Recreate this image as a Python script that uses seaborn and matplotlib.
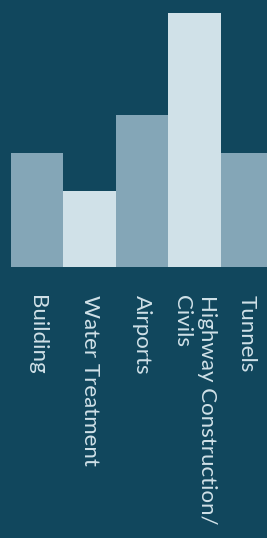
import matplotlib
matplotlib.use("Agg")
import matplotlib.pyplot as plt
import seaborn as sns
import pandas as pd

# data
sectors = ["Building", "Water Treatment", "Airports",
           "Highway Construction/\nCivils", "Tunnels"]
values = [45, 30, 60, 100, 45]
bar_colors = ["#84a6b7", "#d0e1e8", "#84a6b7", "#d0e1e8", "#84a6b7"]

bg = "#11475d"
text_color = "#d0e1e8"

sns.set_style("white")
plt.rcParams["font.family"] = ["Lato", "DejaVu Sans"]

df = pd.DataFrame({"sector": sectors, "value": values})

fig = plt.figure(figsize=(2.67, 5.38), dpi=100)
fig.patch.set_facecolor(bg)
ax = fig.add_axes([0, 1 - 267 / 538, 1, 267 / 538])
ax.set_facecolor(bg)

sns.barplot(data=df, x="sector", y="value", hue="sector",
            palette=bar_colors, saturation=1, width=1.0, linewidth=0,
            legend=False, ax=ax)

ax.set_xlim(-0.71, 4.385)
ax.set_ylim(0, 105.1)
ax.set_xlabel("")
ax.set_ylabel("")
ax.set_yticks([])
ax.tick_params(axis="x", length=0, pad=20)
for lbl in ax.get_xticklabels():
    lbl.set_rotation(-90)
    lbl.set_ha("center")
    lbl.set_va("top")
    lbl.set_multialignment("left")
    lbl.set_color(text_color)
    lbl.set_fontsize(16)
    lbl.set_fontweight("normal")
    lbl.set_linespacing(1.3)
sns.despine(ax=ax, left=True, bottom=True)

fig.savefig("out.png", dpi=100, facecolor=bg)
